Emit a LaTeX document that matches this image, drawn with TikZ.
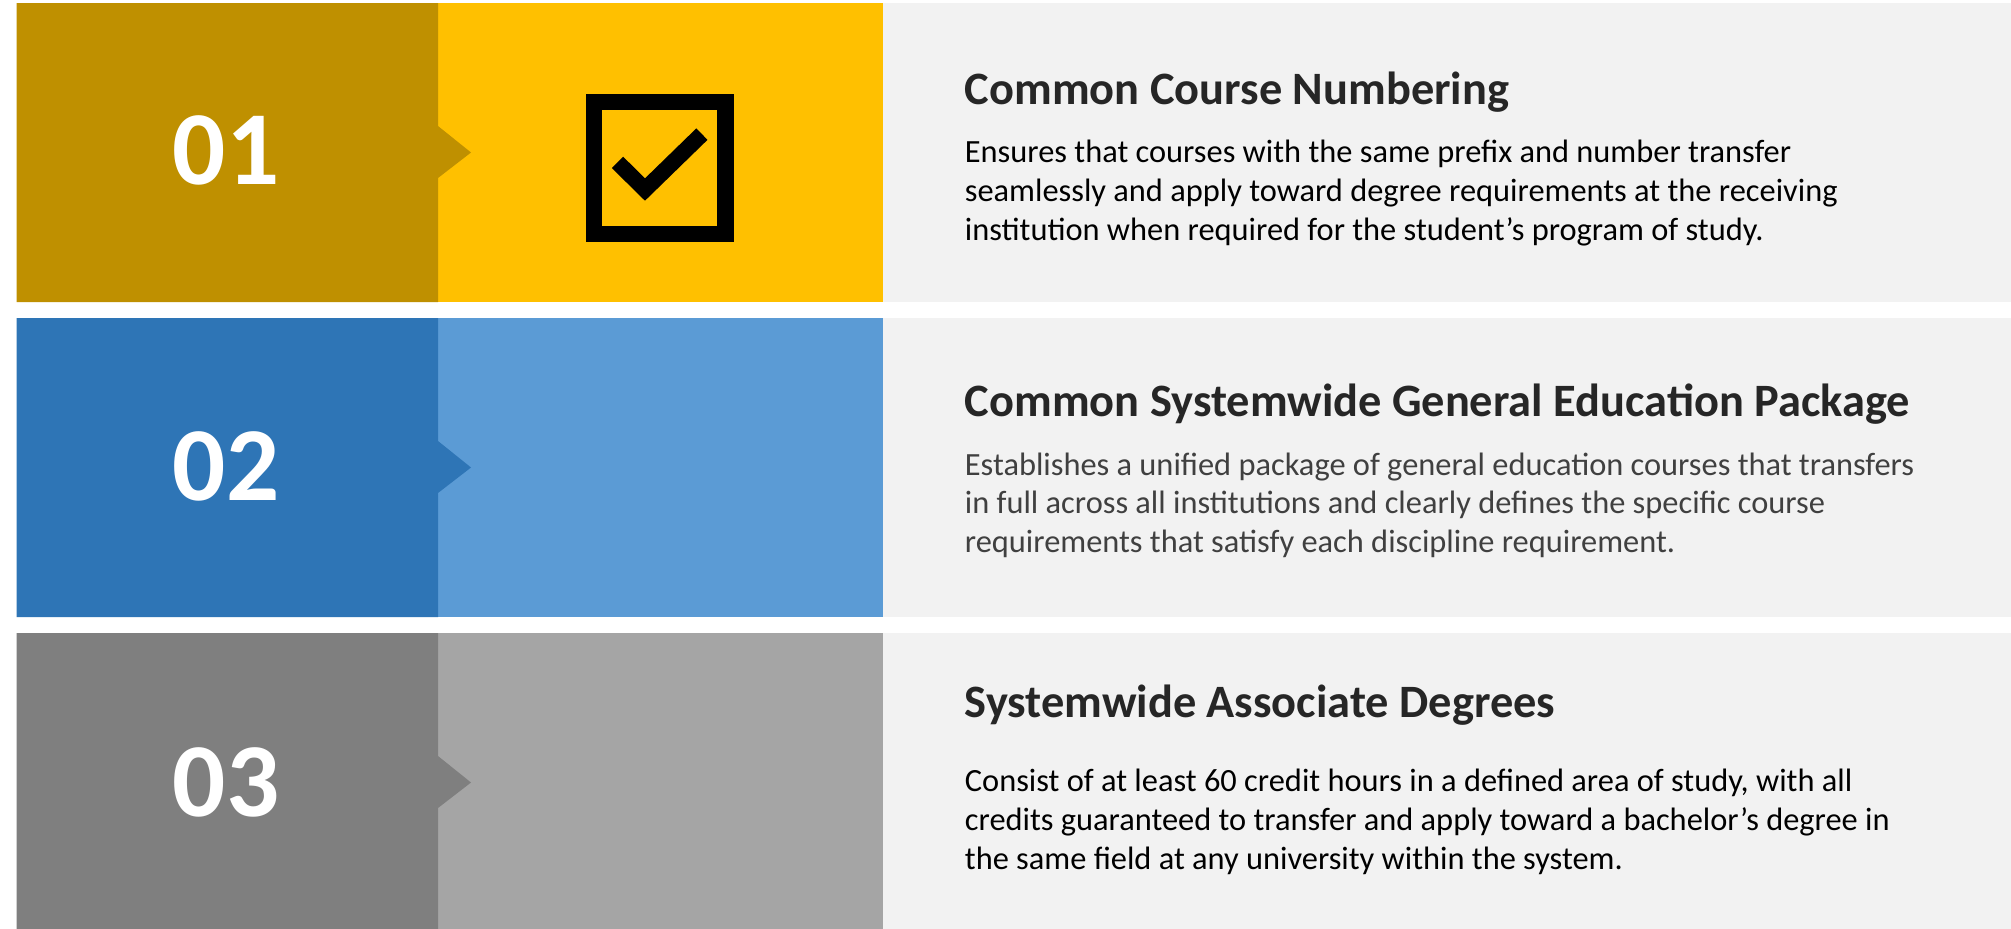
\documentclass[tikz,border=0pt]{standalone}
\usepackage{fontspec}
\setmainfont{Carlito}
\definecolor{goldD}{HTML}{BF9000}
\definecolor{goldL}{HTML}{FFC000}
\definecolor{blueD}{HTML}{2E75B6}
\definecolor{blueL}{HTML}{5B9BD5}
\definecolor{grayD}{HTML}{7F7F7F}
\definecolor{grayL}{HTML}{A5A5A5}
\definecolor{panel}{HTML}{F2F2F2}
\definecolor{headc}{HTML}{262626}
\definecolor{bodyg}{HTML}{404040}
\tikzset{
  numtext/.style={anchor=base, inner sep=0pt, text=white, font=\fontsize{52.5pt}{60pt}\selectfont\bfseries},
  headtext/.style={anchor=base west, inner sep=0pt, text=headc, font=\fontsize{23.2pt}{28pt}\selectfont\bfseries},
  bodytext/.style={anchor=base west, inner sep=0pt},
}
\newcommand{\bodypar}[1]{\parbox[t]{560pt}{\raggedright\fontsize{16.2pt}{19.35pt}\selectfont #1}}
\begin{document}
\begin{tikzpicture}[x=0.5pt,y=-0.5pt]
\useasboundingbox (0,0) rectangle (2011,928);
\fill[white] (0,0) rectangle (2011,928);
% rows
\foreach \t/\cd/\cl in {3/goldD/goldL, 318/blueD/blueL, 633/grayD/grayL}{
  \fill[panel] (883,\t) rectangle (2011,\t+299);
  \fill[\cl] (438,\t) rectangle (883,\t+299);
  \fill[\cd] (16.6,\t) -- (438,\t) -- (438,\t+123) -- (471,\t+149.5) -- (438,\t+175) -- (438,\t+299) -- (16.6,\t+299) -- cycle;
}
% checkbox icon
\draw[line width=8.25pt, black] (594,102) rectangle (725.5,234);
\draw[line width=8pt, black, miter limit=10] (617.5,162.4) -- (645,189.5) -- (701.9,134.1);
% numbers
\node[numtext] (n1) at (226,184.5) {01};
\node[numtext] (n2) at (226,500) {02};
\node[numtext] (n3) at (226,816) {03};
% headings
\node[headtext] (h1) at (964.5,104) {Common Course Numbering};
\node[headtext] (h2) at (964.5,416.7) {Common Systemwide General Education Package};
\node[headtext] (h3) at (964.5,717.3) {Systemwide Associate Degrees};
% bodies
\node[bodytext, text=black] (b1) at (964.5,162.7) {\bodypar{Ensures that courses with the same prefix and number transfer\\seamlessly and apply toward degree requirements at the receiving\\institution when required for the student’s program of study.}};
\node[bodytext, text=bodyg] (b2) at (964.5,475) {\bodypar{Establishes a unified package of general education courses that transfers\\in full across all institutions and clearly defines the specific course\\requirements that satisfy each discipline requirement.}};
\node[bodytext, text=black] (b3) at (964.5,791.7) {\bodypar{Consist of at least 60 credit hours in a defined area of study, with all\\credits guaranteed to transfer and apply toward a bachelor’s degree in\\the same field at any university within the system.}};
\end{tikzpicture}
\end{document}
